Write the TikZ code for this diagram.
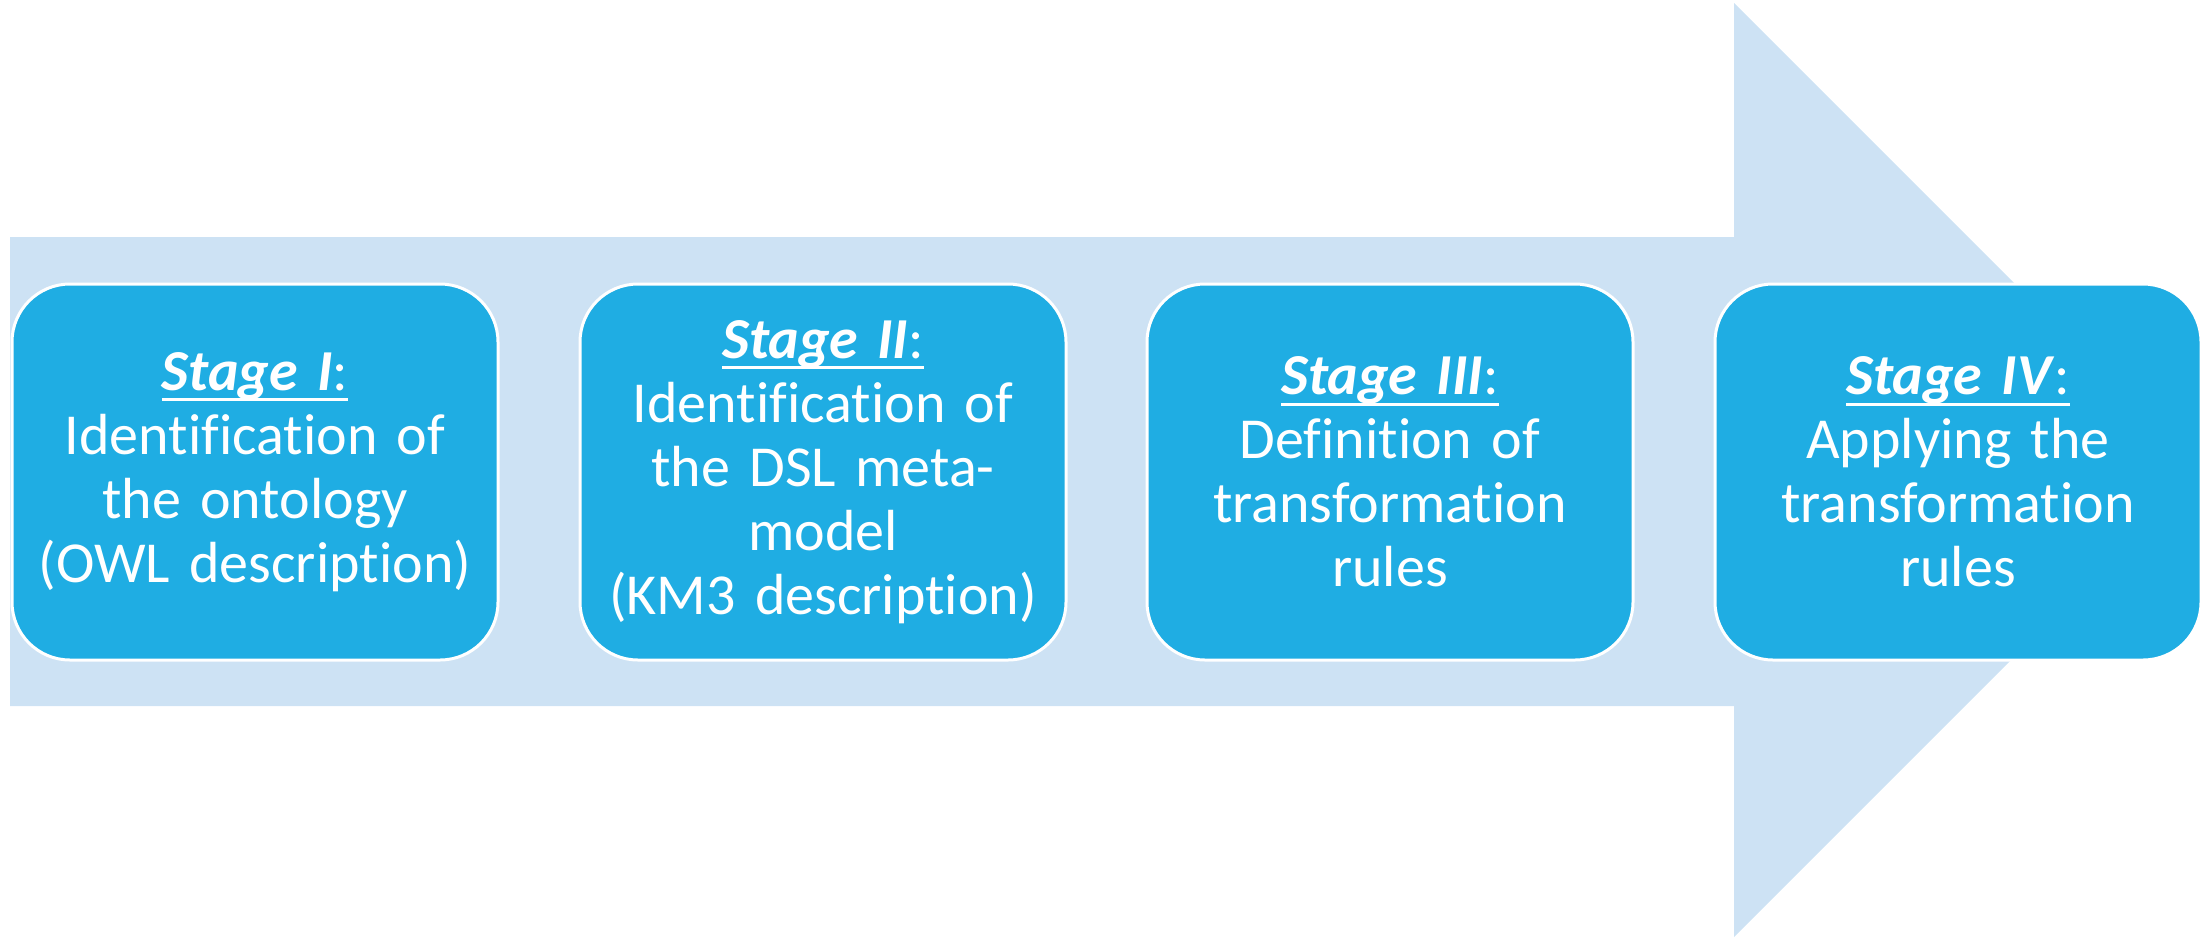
\documentclass[tikz,border=0pt]{standalone}
\usepackage{fontspec}
\setmainfont{Carlito}[Ligatures=NoCommon]
\definecolor{arrowfill}{RGB}{205,226,244}
\definecolor{stagefill}{RGB}{31,173,227}
% bold italic stage label with a heavy underline below the descenders
\newsavebox\stagelabelbox
\newcommand\stagetitle[1]{\sbox\stagelabelbox{\textbf{\textit{#1}}:}%
  \makebox[0pt][l]{\rule[-11pt]{\wd\stagelabelbox}{3pt}}\usebox\stagelabelbox}
\begin{document}
\begin{tikzpicture}[x=1pt,y=-1pt,
  stagebox/.style={draw=white, line width=3pt, fill=stagefill,
    rounded corners=58pt, minimum width=486pt, minimum height=376pt,
    text width=460pt, align=center, text=white, inner sep=0pt,
    font=\fontsize{58}{64}\selectfont}]
\useasboundingbox (0,0) rectangle (2212,938);
% broad background arrow
\fill[arrowfill] (10,237) -- (1734,237) -- (1734,3) -- (2201,470)
  -- (1734,937) -- (1734,706) -- (10,706) -- cycle;
% the four stages
\node[stagebox] (s1) at (255,472)
  {\stagetitle{Stage I}\\Identification of\\the ontology\\(OWL description)};
\node[stagebox] (s2) at (823,472)
  {\stagetitle{Stage II}\\Identification of\\the DSL meta-\\model\\(KM3 description)};
\node[stagebox] (s3) at (1390,472)
  {\stagetitle{Stage III}\\Definition of\\transformation\\rules};
\node[stagebox] (s4) at (1958,472)
  {\stagetitle{Stage IV}\\Applying the\\transformation\\rules};
\end{tikzpicture}
\end{document}
